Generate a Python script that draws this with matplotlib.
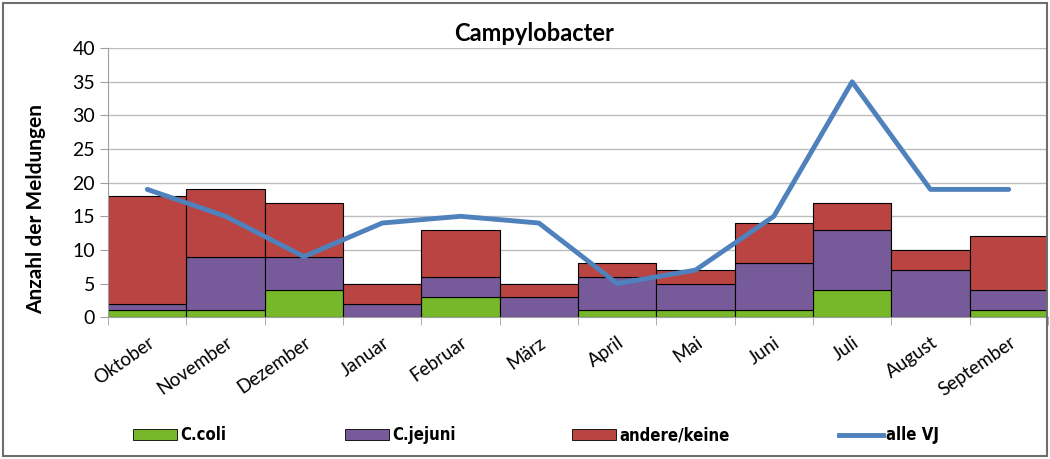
import numpy as np
import matplotlib
matplotlib.use("Agg")
import matplotlib.pyplot as plt
from matplotlib.patches import Patch, Rectangle
from matplotlib.lines import Line2D

months = ["Oktober", "November", "Dezember", "Januar", "Februar", "März",
          "April", "Mai", "Juni", "Juli", "August", "September"]
c_coli = [1, 1, 4, 0, 3, 0, 1, 1, 1, 4, 0, 1]
c_jejuni = [1, 8, 5, 2, 3, 3, 5, 4, 7, 9, 7, 3]
andere = [16, 10, 8, 3, 7, 2, 2, 2, 6, 4, 3, 8]
alle_vj = [19, 15, 9, 14, 15, 14, 5, 7, 15, 35, 19, 19]

green = "#76B82A"
purple = "#775A9A"
red = "#B94442"
blue = "#4F81BD"

plt.rcParams['font.family'] = ['Lato', 'DejaVu Sans']

fig = plt.figure(figsize=(10.5, 4.59), dpi=100)
ax = fig.add_axes([0.103, 0.309, 0.895, 0.586])

x = np.arange(len(months))
b1 = np.array(c_coli)
b2 = b1 + np.array(c_jejuni)
ax.bar(x, c_coli, width=1.0, color=green, edgecolor="black", linewidth=0.8, zorder=2)
ax.bar(x, c_jejuni, width=1.0, bottom=b1, color=purple, edgecolor="black", linewidth=0.8, zorder=2)
ax.bar(x, andere, width=1.0, bottom=b2, color=red, edgecolor="black", linewidth=0.8, zorder=2)
ax.plot(x, alle_vj, color=blue, linewidth=3.5, zorder=3, solid_capstyle="round")

ax.set_xlim(-0.5, len(months) - 0.5)
ax.set_ylim(0, 40)
ax.set_yticks(range(0, 41, 5))
ax.tick_params(axis="y", labelsize=14, length=6, color="#A0A0A0")
ax.grid(axis="y", color="#BDBDBD", linewidth=1, zorder=0)
ax.set_axisbelow(True)

ax.set_xticks(x)
ax.set_xticklabels(months, rotation=35, ha="right", rotation_mode="anchor", fontsize=13.5)
ax.tick_params(axis="x", which="major", length=0, pad=12)
ax.set_xticks(np.arange(-0.5, len(months), 1), minor=True)
ax.tick_params(axis="x", which="minor", length=6, color="#A0A0A0")

for s in ["top", "right"]:
    ax.spines[s].set_visible(False)
for s in ["left", "bottom"]:
    ax.spines[s].set_color("#A0A0A0")

fig.text(0.034, 0.545, "Anzahl der Meldungen", rotation=90, ha="center", va="center",
         fontsize=15, fontweight="bold")
fig.text(0.509, 0.927, "Campylobacter", ha="center", va="center",
         fontsize=17, fontweight="bold")

handles = [Patch(facecolor=green, edgecolor="black", linewidth=0.6),
           Patch(facecolor=purple, edgecolor="black", linewidth=0.6),
           Patch(facecolor=red, edgecolor="black", linewidth=0.6),
           Line2D([0], [0], color=blue, linewidth=3.5)]
labels = ["C.coli", "C.jejuni", "andere/keine", "alle VJ"]
starts = [134, 346, 573, 840]
for h, lab, px in zip(handles, labels, starts):
    fig.legend([h], [lab], loc="center left", bbox_to_anchor=(px / 1050 - 0.015, 0.052),
               frameon=False, handlelength=2.6, handleheight=0.6, handletextpad=0.2,
               prop={"family": "DejaVu Sans", "stretch": "condensed", "weight": "bold", "size": 12})

fig.patches.append(Rectangle((0.003, 0.006), 0.994, 0.988, transform=fig.transFigure,
                             fill=False, edgecolor="#6E6E6E", linewidth=1.5))

fig.savefig("out.png", dpi=100)
